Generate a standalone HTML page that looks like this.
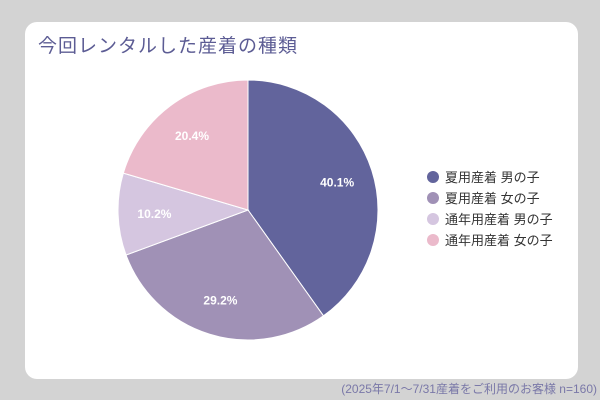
<!DOCTYPE html>
<html><head><meta charset="utf-8"><style>
body{margin:0;width:600px;height:400px;background:#d3d3d3;overflow:hidden;font-family:"Liberation Sans","Noto Sans CJK JP",sans-serif;}
#card{position:absolute;left:25px;top:22px;width:553px;height:357px;background:#fff;border-radius:12px;}
#title{position:absolute;left:38px;top:31px;font-size:19px;color:#5c5c94;letter-spacing:1px;white-space:nowrap;}
#foot{position:absolute;right:3px;top:380px;font-size:12px;color:#7a78a8;white-space:nowrap;}
</style></head><body>
<div id="card"></div>
<div id="title">今回レンタルした産着の種類</div>
<svg id="chart" width="600" height="400" style="position:absolute;left:0;top:0"></svg>
<div id="foot">(2025年7/1〜7/31産着をご利用のお客様 n=160)</div>
<script>
const categories=["夏用産着 男の子","夏用産着 女の子","通年用産着 男の子","通年用産着 女の子"];
const values=[40.1,29.2,10.2,20.4];
const colors=["#62649c","#a091b6","#d5c6e0","#ebbacb"];
const svg=document.getElementById('chart');const NS="http://www.w3.org/2000/svg";
const cx=248,cy=210,r=130;
const total=values.reduce((a,b)=>a+b,0);
function pt(a,rr){return [cx+rr*Math.sin(a),cy-rr*Math.cos(a)];}
let a0=0;
values.forEach((v,i)=>{
  const a1=a0+v/total*2*Math.PI;
  const p0=pt(a0,r),p1=pt(a1,r);
  const large=(a1-a0)>Math.PI?1:0;
  const p=document.createElementNS(NS,'path');
  p.setAttribute('d',`M${cx},${cy}L${p0[0]},${p0[1]}A${r},${r} 0 ${large} 1 ${p1[0]},${p1[1]}Z`);
  p.setAttribute('fill',colors[i]);p.setAttribute('stroke','#fff');p.setAttribute('stroke-width','1');
  
  
  svg.appendChild(p);
  const m=(a0+a1)/2,lp=pt(m,r*0.72);
  const t=document.createElementNS(NS,'text');
  t.setAttribute('x',lp[0]);t.setAttribute('y',lp[1]+5);t.setAttribute('text-anchor','middle');
  t.setAttribute('fill','#fff');t.setAttribute('font-size','12');t.setAttribute('font-weight','bold');
  t.textContent=v.toFixed(1)+'%';
  
  
  svg.appendChild(t);
  a0=a1;
});
categories.forEach((c,i)=>{
  const y=177+i*21;
  const d=document.createElementNS(NS,'circle');
  d.setAttribute('cx',433);d.setAttribute('cy',y);d.setAttribute('r',6);d.setAttribute('fill',colors[i]);
  
  
  svg.appendChild(d);
  const t=document.createElementNS(NS,'text');
  t.setAttribute('x',445);t.setAttribute('y',y+5);t.setAttribute('font-size','13');t.setAttribute('fill','#333');
  t.textContent=c;
  
  
  svg.appendChild(t);
});
</script>
</body></html>
